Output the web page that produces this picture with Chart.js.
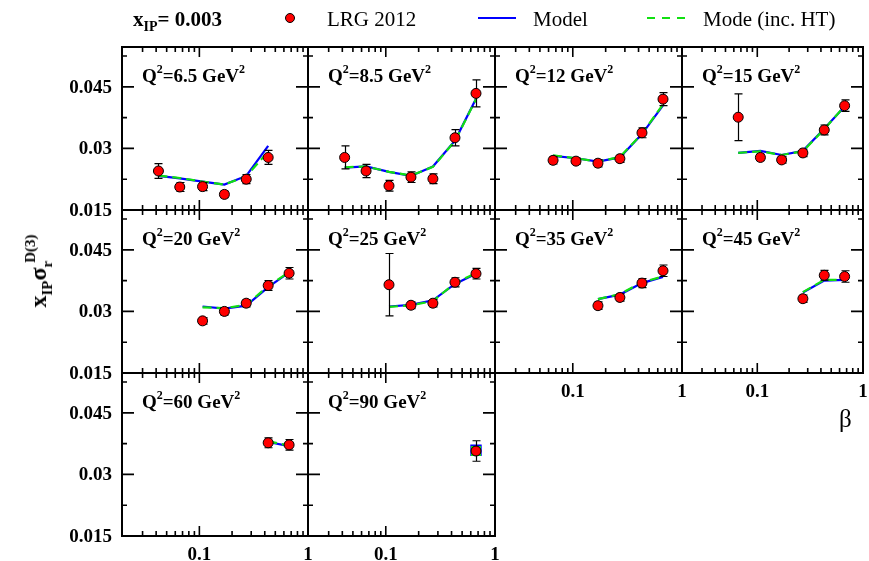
<!DOCTYPE html>
<html><head><meta charset="utf-8">
<script src="https://cdn.jsdelivr.net/npm/chart.js@4.4.1/dist/chart.umd.min.js"></script>
<style>
html,body{margin:0;padding:0;background:#fff;}
#wrap{position:relative;width:869px;height:561px;overflow:hidden;font-family:"Liberation Serif","Times New Roman",serif;color:#000;background:#fff;}
canvas{position:absolute;left:0;top:0;}
.t{position:absolute;white-space:nowrap;line-height:20px;}
.q{font-weight:bold;font-size:19px;}
.q sup{font-size:12px;vertical-align:baseline;position:relative;top:-9px;line-height:0;}
#hdr{font-weight:bold;font-size:21px;}
#hdr sub{font-size:14px;vertical-align:baseline;position:relative;top:5px;line-height:0;}
.leg{font-size:21px;}
#ytitle{position:absolute;left:38px;top:271px;transform:translate(-50%,-50%) rotate(-90deg);font-weight:bold;font-size:24px;white-space:nowrap;line-height:24px;}
#ytitle sub{font-size:15px;vertical-align:baseline;position:relative;top:6px;line-height:0;}
#ytitle sup{font-size:15px;vertical-align:baseline;position:relative;top:-11px;line-height:0;}
</style>
</head><body>
<div id="wrap"></div>
<script>
// ---------- data ----------
const q2Labels = ["6.5", "8.5", "12", "15", "20", "25", "35", "45", "60", "90"];
const betaValues = [
  [0.042, 0.066, 0.107, 0.17, 0.27, 0.43],
  [0.042, 0.066, 0.107, 0.17, 0.27, 0.43, 0.67],
  [0.066, 0.107, 0.17, 0.27, 0.43, 0.67],
  [0.066, 0.107, 0.17, 0.27, 0.43, 0.67],
  [0.107, 0.17, 0.27, 0.43, 0.67],
  [0.107, 0.17, 0.27, 0.43, 0.67],
  [0.17, 0.27, 0.43, 0.67],
  [0.27, 0.43, 0.67],
  [0.43, 0.67],
  [0.67]
];
const lrgValues = [
  [0.0245, 0.0206, 0.0207, 0.0188, 0.0225, 0.0278],
  [0.0278, 0.0245, 0.0209, 0.0230, 0.0226, 0.0326, 0.0434],
  [0.0271, 0.0269, 0.0264, 0.0275, 0.0338, 0.0420],
  [0.0376, 0.0278, 0.0272, 0.0289, 0.0345, 0.0404],
  [0.0277, 0.0300, 0.0320, 0.0363, 0.0393],
  [0.0365, 0.0315, 0.0320, 0.0371, 0.0392],
  [0.0314, 0.0334, 0.0369, 0.0399],
  [0.0331, 0.0388, 0.0385],
  [0.0377, 0.0372],
  [0.0357]
];
const lrgErrors = [
  [0.0018, 0.0011, 0.0010, 0.0008, 0.0011, 0.0017],
  [0.0028, 0.0016, 0.0013, 0.0013, 0.0012, 0.0020, 0.0033],
  [0.0009, 0.0008, 0.0009, 0.0009, 0.0012, 0.0016],
  [0.0057, 0.0008, 0.0008, 0.0009, 0.0012, 0.0014],
  [0.0008, 0.0009, 0.0009, 0.0012, 0.0014],
  [0.0076, 0.0008, 0.0009, 0.0011, 0.0013],
  [0.0009, 0.0009, 0.0011, 0.0014],
  [0.0009, 0.0012, 0.0014],
  [0.0012, 0.0013],
  [0.0025]
];
const modelValues = [
  [0.0233, 0.0227, 0.0219, 0.0212, 0.0233, 0.0306],
  [0.0253, 0.0256, 0.0243, 0.0233, 0.0256, 0.0319, 0.0421],
  [0.0282, 0.0276, 0.0268, 0.0278, 0.0335, 0.0405],
  [0.0289, 0.0294, 0.0284, 0.0294, 0.0348, 0.0402],
  [0.0312, 0.0307, 0.0314, 0.0359, 0.0395],
  [0.0312, 0.0316, 0.0327, 0.0367, 0.0392],
  [0.0330, 0.0341, 0.0369, 0.0384],
  [0.0346, 0.0375, 0.0377],
  [0.0379, 0.0369],
  [0.0359]
];
const modelHTValues = [
  [0.0234, 0.0228, 0.0219, 0.0212, 0.0232, 0.0292],
  [0.0254, 0.0256, 0.0243, 0.0234, 0.0255, 0.0318, 0.0420],
  [0.0283, 0.0276, 0.0268, 0.0279, 0.0336, 0.0407],
  [0.0289, 0.0293, 0.0284, 0.0293, 0.0347, 0.0403],
  [0.0310, 0.0308, 0.0316, 0.0362, 0.0396],
  [0.0311, 0.0315, 0.0325, 0.0369, 0.0393],
  [0.0330, 0.0342, 0.0371, 0.0385],
  [0.0347, 0.0377, 0.0377],
  [0.0381, 0.0370],
  [0.0357]
];
const yTickValues = [0.015, 0.03, 0.045];
const yTickLabels = ["0.015", "0.03", "0.045"];
const yMinorValues = [0.0225, 0.0375, 0.0525];
const xTickValues = [0.1, 1];
const xTickLabels = ["0.1", "1"];
const xMinorValues = [0.02, 0.03, 0.04, 0.05, 0.06, 0.07, 0.08, 0.09, 0.2, 0.3, 0.4, 0.5, 0.6, 0.7, 0.8, 0.9];

// ---------- layout ----------
const W = 869, H = 561;
const colEdges = [122, 308, 495, 682, 868];
const rowEdges = [47, 210, 373, 536];
const xMin = 0.0194, xMax = 1;
const yMin = 0.015, yMax = 0.0547;
const wrap = document.getElementById('wrap');
const tickFont = 'bold 19px "Liberation Serif", "Times New Roman", serif';

function addText(html, cls, left, top, extra) {
  const d = document.createElement('div');
  d.className = 't ' + cls;
  d.innerHTML = html;
  d.style.left = left + 'px';
  d.style.top = top + 'px';
  if (extra) Object.assign(d.style, extra);
  wrap.appendChild(d);
  return d;
}

function makePanel(i) {
  const row = Math.floor(i / 4), col = i % 4;
  const L = colEdges[col], R = colEdges[col + 1], T = rowEdges[row], B = rowEdges[row + 1];
  const showY = col === 0;
  const showX = row === 2 || (row === 1 && col >= 2);
  const single = betaValues[i].length === 1;
  const cv = document.createElement('canvas');
  cv.width = W; cv.height = H;
  cv.style.width = W + 'px'; cv.style.height = H + 'px';
  wrap.appendChild(cv);

  const pts = (ys) => betaValues[i].map((b, k) => ({ x: b, y: ys[k] }));

  const panelPlugin = {
    id: 'panel' + i,
    beforeDatasetDraw(chart, args) {
      if (args.index !== 0) return;
      const xs = chart.scales.x, ysc = chart.scales.y, ctx = chart.ctx;
      ctx.save();
      ctx.strokeStyle = '#000';
      ctx.lineWidth = 1.2;
      betaValues[i].forEach((b, k) => {
        const v = lrgValues[i][k], e = lrgErrors[i][k];
        const px = Math.round(xs.getPixelForValue(b)) + 0.5;
        const y1 = ysc.getPixelForValue(v - e), y2 = ysc.getPixelForValue(v + e);
        ctx.beginPath();
        ctx.moveTo(px, y1); ctx.lineTo(px, y2);
        ctx.moveTo(px - 4, y1); ctx.lineTo(px + 4, y1);
        ctx.moveTo(px - 4, y2); ctx.lineTo(px + 4, y2);
        ctx.stroke();
      });
      ctx.restore();
    },
    afterDraw(chart) {
      const xs = chart.scales.x, ysc = chart.scales.y, ctx = chart.ctx;
      const a = chart.chartArea;
      ctx.save();
      ctx.strokeStyle = '#000';
      ctx.lineWidth = 1.6;
      ctx.beginPath();
      yTickValues.forEach(v => {
        const py = ysc.getPixelForValue(v);
        if (py > a.bottom - 2 || py < a.top + 2) return;
        ctx.moveTo(a.left, py); ctx.lineTo(a.left + 12, py);
        ctx.moveTo(a.right, py); ctx.lineTo(a.right - 12, py);
      });
      yMinorValues.forEach(v => {
        const py = ysc.getPixelForValue(v);
        if (py > a.bottom - 2 || py < a.top + 2) return;
        ctx.moveTo(a.left, py); ctx.lineTo(a.left + 5, py);
        ctx.moveTo(a.right, py); ctx.lineTo(a.right - 5, py);
      });
      xTickValues.forEach(v => {
        const px = xs.getPixelForValue(v);
        if (px > a.right - 3 || px < a.left + 3) return;
        ctx.moveTo(px, a.bottom); ctx.lineTo(px, a.bottom - 10);
        ctx.moveTo(px, a.top); ctx.lineTo(px, a.top + 10);
      });
      xMinorValues.forEach(v => {
        const px = xs.getPixelForValue(v);
        if (px > a.right - 3 || px < a.left + 3) return;
        ctx.moveTo(px, a.bottom); ctx.lineTo(px, a.bottom - 5);
        ctx.moveTo(px, a.top); ctx.lineTo(px, a.top + 5);
      });
      ctx.stroke();
      ctx.lineWidth = 2;
      ctx.strokeRect(a.left, a.top, a.right - a.left, a.bottom - a.top);
      ctx.fillStyle = '#000';
      ctx.font = tickFont;
      if (showY) {
        ctx.textAlign = 'right';
        ctx.textBaseline = 'middle';
        yTickValues.forEach((v, k) => {
          ctx.fillText(yTickLabels[k], a.left - 10, ysc.getPixelForValue(v) + 1);
        });
      }
      if (showX) {
        ctx.textAlign = 'center';
        ctx.textBaseline = 'top';
        xTickValues.forEach((v, k) => {
          ctx.fillText(xTickLabels[k], xs.getPixelForValue(v), a.bottom + 10);
        });
      }
      ctx.restore();
    }
  };

  new Chart(cv, {
    type: 'line',
    data: {
      datasets: [
        {
          label: 'LRG 2012', data: pts(lrgValues[i]), showLine: false,
          pointRadius: 5, pointHoverRadius: 5, pointBackgroundColor: '#ff0000',
          pointBorderColor: '#000000', pointBorderWidth: 1
        },
        {
          label: 'Mode (inc. HT)', data: pts(modelHTValues[i]), borderColor: '#11e011',
          borderWidth: 2.2, borderDash: [9, 5], tension: 0, fill: false,
          pointRadius: single ? 5.5 : 0, pointStyle: 'rect',
          pointBackgroundColor: '#11e011', pointBorderColor: '#11e011'
        },
        {
          label: 'Model', data: pts(modelValues[i]), borderColor: '#0000ff',
          borderWidth: 2.2, tension: 0, fill: false,
          pointRadius: single ? 6.5 : 0, pointStyle: 'rect',
          pointBackgroundColor: '#3355ff', pointBorderColor: '#0000ff'
        }
      ]
    },
    options: {
      responsive: false, animation: false, devicePixelRatio: 1, events: [],
      layout: { padding: { left: L, top: T, right: W - R, bottom: H - B } },
      plugins: { legend: { display: false }, tooltip: { enabled: false }, title: { display: false } },
      scales: {
        x: { type: 'logarithmic', min: xMin, max: xMax, display: false },
        y: { type: 'linear', min: yMin, max: yMax, display: false }
      }
    },
    plugins: [panelPlugin]
  });

  addText('Q<sup>2</sup>=' + q2Labels[i] + ' GeV<sup>2</sup>', 'q', L + 20, T + 19);
}

for (let i = 0; i < q2Labels.length; i++) makePanel(i);

// header & legend
const hdr = addText('x<sub>IP</sub>= 0.003', '', 133, 9);
hdr.id = 'hdr';
const dot = document.createElement('div');
Object.assign(dot.style, { position: 'absolute', left: '285px', top: '13px', width: '8px', height: '8px', borderRadius: '50%', background: '#ff0000', border: '1px solid #000' });
wrap.appendChild(dot);
addText('LRG 2012', 'leg', 327, 9);
const bl = document.createElement('div');
Object.assign(bl.style, { position: 'absolute', left: '478px', top: '17px', width: '38px', height: '2px', background: '#0000ff' });
wrap.appendChild(bl);
addText('Model', 'leg', 533, 9);
const gl = document.createElement('div');
Object.assign(gl.style, { position: 'absolute', left: '647px', top: '17px', width: '38px', height: '2px', background: 'repeating-linear-gradient(90deg, #11e011 0 8px, transparent 8px 15px)' });
wrap.appendChild(gl);
addText('Mode (inc. HT)', 'leg', 703, 9);

// axis titles
const yt = document.createElement('div');
yt.id = 'ytitle';
yt.innerHTML = 'x<sub>IP</sub>σ<sub>r</sub><sup style="margin-left:-2px">D(3)</sup>';
wrap.appendChild(yt);
addText('β', '', 839, 406, { fontSize: '25px', lineHeight: '26px' });
</script>
</body></html>
